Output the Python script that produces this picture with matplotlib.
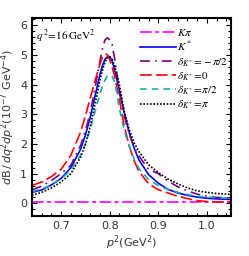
import matplotlib
matplotlib.use("Agg")
import matplotlib.pyplot as plt
from matplotlib.ticker import MultipleLocator, AutoMinorLocator

plt.rcParams['mathtext.fontset'] = 'stix'
plt.rcParams['font.family'] = 'DejaVu Sans'

# p^2 sample points (GeV^2)
p2 = [0.64, 0.66, 0.68, 0.70, 0.72, 0.74, 0.75, 0.76, 0.77, 0.78, 0.785,
      0.79, 0.795, 0.80, 0.805, 0.81, 0.815, 0.82, 0.83, 0.84, 0.85, 0.86,
      0.88, 0.90, 0.92, 0.94, 0.96, 0.98, 1.00, 1.02, 1.05]

# dB/dq^2dp^2 in 1e-7 GeV^-4
kpi = [0.06, 0.06, 0.06, 0.06, 0.06, 0.06, 0.06, 0.06, 0.06, 0.06, 0.06,
       0.06, 0.06, 0.06, 0.06, 0.06, 0.06, 0.06, 0.06, 0.06, 0.06, 0.06,
       0.06, 0.06, 0.06, 0.06, 0.06, 0.06, 0.06, 0.06, 0.06]
kstar = [0.37, 0.45, 0.62, 0.84, 1.2, 1.82, 2.3, 2.9, 3.62, 4.35, 4.63,
         4.85, 4.93, 4.94, 4.8, 4.5, 4.15, 3.8, 3.05, 2.4, 1.88, 1.47,
         0.97, 0.68, 0.47, 0.35, 0.27, 0.21, 0.17, 0.15, 0.13]
d_mpi2 = [0.45, 0.58, 0.77, 1.0, 1.28, 1.95, 2.45, 3.05, 3.9, 4.8, 5.2,
          5.5, 5.58, 5.52, 5.35, 4.9, 4.35, 3.75, 2.95, 2.35, 1.9, 1.6,
          1.15, 1.0, 0.75, 0.56, 0.42, 0.31, 0.24, 0.2, 0.18]
d_0 = [0.6, 0.72, 0.9, 1.15, 1.62, 2.4, 2.95, 3.55, 4.14, 4.7, 4.92,
       5.03, 5.02, 4.85, 4.6, 4.3, 3.92, 3.5, 2.6, 1.95, 1.45, 1.08,
       0.66, 0.46, 0.35, 0.24, 0.16, 0.09, 0.06, 0.05, 0.05]
d_pi2 = [0.40, 0.48, 0.62, 0.82, 1.12, 1.62, 2.0, 2.5, 3.1, 3.7, 3.95,
         4.15, 4.28, 4.33, 4.28, 4.1, 3.7, 3.2, 2.45, 1.95, 1.5, 1.18,
         0.8, 0.6, 0.47, 0.37, 0.3, 0.24, 0.21, 0.19, 0.17]
d_pi = [0.27, 0.37, 0.52, 0.72, 1.0, 1.55, 1.98, 2.6, 3.35, 4.15, 4.48,
        4.75, 4.9, 4.95, 4.86, 4.65, 4.35, 4.0, 3.1, 2.5, 2.05, 1.75,
        1.3, 1.04, 0.82, 0.66, 0.52, 0.42, 0.37, 0.33, 0.30]

labels = [r'$K\pi$', r'$K^*$', r'$\delta_{K^*}\!=\!-\pi/2$',
          r'$\delta_{K^*}\!=\!0$', r'$\delta_{K^*}\!=\!\pi/2$',
          r'$\delta_{K^*}\!=\!\pi$']

fig = plt.figure(figsize=(2.49, 2.56), dpi=100)
ax = fig.add_axes([0.1285, 0.156, 0.7995, 0.774])

lw = 1.2
ax.plot(p2, kpi, color='#FF00FF', lw=lw, dashes=(7, 2, 2.5, 2), label=labels[0])
ax.plot(p2, kstar, color='#0000FF', lw=lw, label=labels[1])
ax.plot(p2, d_mpi2, color='#800080', lw=lw, dashes=(6, 3, 1, 3), label=labels[2])
ax.plot(p2, d_0, color='#FF0000', lw=lw, dashes=(7, 2.5), label=labels[3])
ax.plot(p2, d_pi2, color='#1AADAD', lw=lw, dashes=(4, 3), label=labels[4])
ax.plot(p2, d_pi, color='black', lw=lw, dashes=(1, 1), label=labels[5])

ax.set_xlim(0.64, 1.05)
ax.set_ylim(-0.43, 6.25)
ax.xaxis.set_major_locator(MultipleLocator(0.1))
ax.xaxis.set_minor_locator(AutoMinorLocator(5))
ax.yaxis.set_major_locator(MultipleLocator(1))
ax.yaxis.set_minor_locator(AutoMinorLocator(5))
ax.tick_params(which='both', direction='in', top=True, right=True,
               labelsize=8, labelcolor='#333333', width=0.8)
ax.tick_params(which='major', length=3.5)
ax.tick_params(which='minor', length=2)
for s in ax.spines.values():
    s.set_linewidth(1.5)

ax.set_xlabel(r'$p^2(\mathrm{GeV}^2)$', fontsize=8, color='#333333',
              math_fontfamily='dejavusans', labelpad=2)
ax.set_ylabel(r'$d\mathrm{B}\,/\,dq^2dp^2(10^{-7}\ \mathrm{GeV}^{-4})$',
              fontsize=8, color='#333333', math_fontfamily='dejavusans',
              labelpad=2)

ax.text(0.02, 0.905, r'$q^{\,2}\!=\!16\,\mathrm{GeV}^2$', transform=ax.transAxes,
        fontsize=8, va='center', ha='left')

ax.legend(loc='upper right', bbox_to_anchor=(1.02, 0.99), frameon=False,
          fontsize=8, handlelength=3.2, handletextpad=0.1,
          labelspacing=0.15, borderaxespad=0.2)

fig.savefig('out.png', dpi=100)
